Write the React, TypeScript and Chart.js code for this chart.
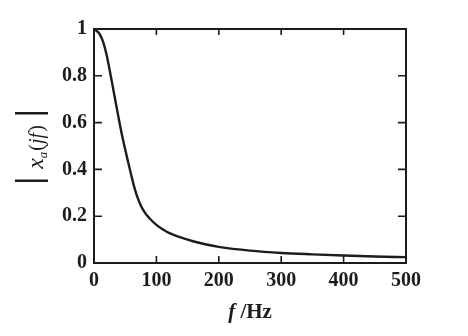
import React, { useEffect, useRef } from "react";
import { Chart, registerables } from "chart.js";

Chart.register(...registerables);

const freqHz = [0, 5, 10, 15, 20, 25, 30, 35, 40, 45, 50, 55, 60, 65, 70, 75, 80, 85, 90, 100, 110, 120, 140, 160, 180, 200, 250, 300, 350, 400, 450, 500];
const magnitude = [1, 0.99, 0.974, 0.942, 0.892, 0.826, 0.755, 0.683, 0.612, 0.545, 0.485, 0.428, 0.372, 0.32, 0.278, 0.246, 0.222, 0.203, 0.188, 0.163, 0.144, 0.129, 0.108, 0.092, 0.079, 0.069, 0.053, 0.043, 0.037, 0.032, 0.028, 0.025];
const xTicks = [0, 100, 200, 300, 400, 500];
const xTickLabels = ["0", "100", "200", "300", "400", "500"];
const yTicks = [0, 0.2, 0.4, 0.6, 0.8, 1];
const yTickLabels = ["0", "0.2", "0.4", "0.6", "0.8", "1"];

const INK = "#1c1c1c";
const SERIF = '"Liberation Serif", "DejaVu Serif", serif';

const framePlugin = {
  id: "frameAndTitles",
  afterDraw(chart: any) {
    const ctx: CanvasRenderingContext2D = chart.ctx;
    const { left, right, top, bottom } = chart.chartArea;
    const xs = chart.scales.x;
    const ys = chart.scales.y;
    ctx.save();
    ctx.strokeStyle = INK;
    ctx.lineWidth = 2;
    ctx.strokeRect(left, top, right - left, bottom - top);
    ctx.lineWidth = 1.6;
    ctx.beginPath();
    xTicks.forEach((v) => {
      if (v === xTicks[0] || v === xTicks[xTicks.length - 1]) return;
      const px = xs.getPixelForValue(v);
      ctx.moveTo(px, bottom);
      ctx.lineTo(px, bottom - 7);
      ctx.moveTo(px, top);
      ctx.lineTo(px, top + 6);
    });
    yTicks.forEach((v) => {
      if (v === yTicks[0] || v === yTicks[yTicks.length - 1]) return;
      const py = ys.getPixelForValue(v);
      ctx.moveTo(left, py);
      ctx.lineTo(left + 8, py);
      ctx.moveTo(right, py);
      ctx.lineTo(right - 8, py);
    });
    ctx.stroke();

    // x title
    ctx.fillStyle = INK;
    ctx.textAlign = "left";
    ctx.textBaseline = "alphabetic";
    const fI = `italic bold 21px ${SERIF}`;
    const fB = `bold 21px ${SERIF}`;
    ctx.font = fI;
    const w1 = ctx.measureText("f").width;
    ctx.font = fB;
    const w2 = ctx.measureText(" /Hz").width;
    const cx = (left + right) / 2;
    const x0 = cx - (w1 + w2) / 2;
    ctx.font = fI;
    ctx.fillText("f", x0, 318);
    ctx.font = fB;
    ctx.fillText(" /Hz", x0 + w1, 318);

    // y title  |x_a(jf)|
    ctx.translate(33, (top + bottom) / 2 + 1);
    ctx.rotate(-Math.PI / 2);
    const parts = [
      { t: "|", font: `bold 36px ${SERIF}`, dy: 7, gap: 8 },
      { t: "x", font: `italic 24px ${SERIF}`, dy: 10, gap: 0 },
      { t: "a", font: `italic 13px ${SERIF}`, dy: 14, gap: 1 },
      { t: "(", font: `20px ${SERIF}`, dy: 10, gap: 0 },
      { t: "j", font: `italic 20px ${SERIF}`, dy: 10, gap: 0 },
      { t: "f", font: `italic 20px ${SERIF}`, dy: 10, gap: 1 },
      { t: ")", font: `20px ${SERIF}`, dy: 10, gap: 8 },
      { t: "|", font: `bold 36px ${SERIF}`, dy: 7, gap: 0 },
    ];
    let total = 0;
    const widths = parts.map((p) => {
      ctx.font = p.font;
      const w = ctx.measureText(p.t).width;
      total += w + p.gap;
      return w;
    });
    let px = -total / 2;
    parts.forEach((p, i) => {
      ctx.font = p.font;
      ctx.fillText(p.t, px, p.dy);
      px += widths[i] + p.gap;
    });
    ctx.restore();
  },
};

export default function App() {
  const ref = useRef<HTMLCanvasElement | null>(null);
  useEffect(() => {
    if (!ref.current) return;
    const chart = new Chart(ref.current, {
      type: "line",
      data: {
        datasets: [
          {
            data: freqHz.map((f, i) => ({ x: f, y: magnitude[i] })),
            borderColor: INK,
            borderWidth: 2.4,
            pointRadius: 0,
            cubicInterpolationMode: "monotone",
            fill: false,
          },
        ],
      },
      options: {
        animation: false,
        responsive: false,
        devicePixelRatio: 1,
        layout: { padding: { top: 29, right: 62, left: 0, bottom: 0 } },
        plugins: { legend: { display: false }, tooltip: { enabled: false } },
        scales: {
          x: {
            type: "linear",
            min: 0,
            max: 500,
            grid: { display: false, drawTicks: false },
            border: { display: false },
            afterBuildTicks: (s: any) => {
              s.ticks = xTicks.map((v) => ({ value: v }));
            },
            afterFit: (s: any) => {
              s.height = 73;
            },
            ticks: {
              padding: 6,
              color: INK,
              font: { family: SERIF, size: 20, weight: "bold" },
              maxRotation: 0,
              callback: (v: any) => {
                const i = xTicks.indexOf(Number(v));
                return i >= 0 ? xTickLabels[i] : "";
              },
            },
          },
          y: {
            type: "linear",
            min: 0,
            max: 1,
            grid: { display: false, drawTicks: false },
            border: { display: false },
            afterBuildTicks: (s: any) => {
              s.ticks = yTicks.map((v) => ({ value: v }));
            },
            afterFit: (s: any) => {
              s.width = 94;
            },
            ticks: {
              padding: 7,
              color: INK,
              font: { family: SERIF, size: 20, weight: "bold" },
              callback: (v: any) => {
                const i = yTicks.findIndex((t) => Math.abs(t - Number(v)) < 1e-9);
                return i >= 0 ? yTickLabels[i] : "";
              },
            },
          },
        },
      },
      plugins: [framePlugin],
    });
    return () => chart.destroy();
  }, []);
  return (
    <div style={{ position: "absolute", left: 0, top: 0, width: 468, height: 336, background: "#fff" }}>
      <canvas ref={ref} width={468} height={336} style={{ display: "block" }} />
    </div>
  );
}
